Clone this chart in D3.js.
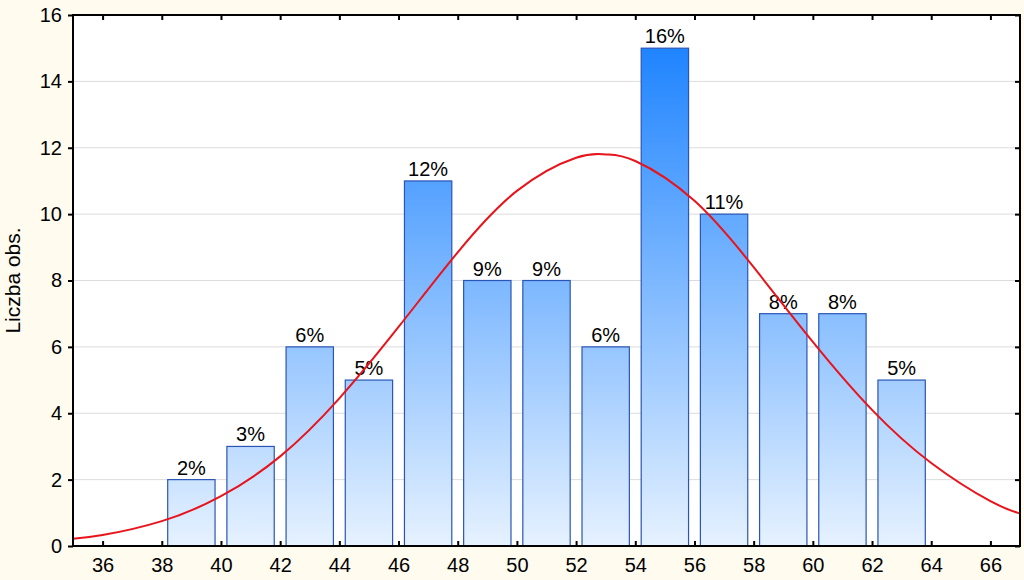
<!DOCTYPE html>
<html>
<head>
<meta charset="utf-8">
<script src="https://cdn.jsdelivr.net/npm/d3@7"></script>
<style>
  body { margin: 0; background: #fffbef; }
  svg { display: block; }
</style>
</head>
<body>
<svg id="hist" width="1024" height="580"></svg>
<script>
// bin centres (bins are 2 wide), counts and the percent labels
var binCenters = [39, 41, 43, 45, 47, 49, 51, 53, 55, 57, 59, 61, 63];
var counts = [2, 3, 6, 5, 11, 8, 8, 6, 15, 10, 7, 7, 5];
var percents = ["2%", "3%", "6%", "5%", "12%", "9%", "9%", "6%", "16%", "11%", "8%", "8%", "5%"];

// expected normal curve
var curveX = [35, 36, 38, 40, 42, 44, 46, 48, 50, 52, 53, 54, 56, 58, 60, 62, 64, 66, 67];
var curveY = [0.22, 0.33, 0.75, 1.5, 2.7, 4.45, 6.6, 8.85, 10.7, 11.7, 11.8, 11.6, 10.4, 8.4, 6.15, 4.1, 2.5, 1.35, 0.98];

var xTicks = [36, 38, 40, 42, 44, 46, 48, 50, 52, 54, 56, 58, 60, 62, 64, 66];
var yTicks = [0, 2, 4, 6, 8, 10, 12, 14, 16];

var svg = d3.select("svg#hist"),
    margin = {top: 15, right: 4, bottom: 34, left: 73},
    width = +svg.attr("width") - margin.left - margin.right,
    height = +svg.attr("height") - margin.top - margin.bottom;

var x = d3.scaleLinear().domain([35, 67]).range([0, width]);
var y = d3.scaleLinear().domain([0, 16]).range([height, 0]);

var defs = svg.append("defs");
var grad = defs.append("linearGradient")
    .attr("id", "barGrad")
    .attr("gradientUnits", "userSpaceOnUse")
    .attr("x1", 0).attr("x2", 0)
    .attr("y1", margin.top + y(0)).attr("y2", margin.top + y(16));
grad.append("stop").attr("offset", "0%").attr("stop-color", "#ecf5ff");
grad.append("stop").attr("offset", "100%").attr("stop-color", "#1880ff");

var g = svg.append("g").attr("transform", "translate(" + margin.left + "," + margin.top + ")");

g.append("rect")
    .attr("width", width)
    .attr("height", height)
    .attr("fill", "#fff");

// grid
g.append("g").selectAll("line")
  .data(yTicks.slice(1, -1))
  .enter().append("line")
    .attr("x1", 0).attr("x2", width)
    .attr("y1", function(d) { return y(d); })
    .attr("y2", function(d) { return y(d); })
    .attr("stroke", "#dcdcdc")
    .attr("stroke-width", 1);

// bars
var pad = 0.2;
g.append("g").selectAll("rect")
  .data(binCenters)
  .enter().append("rect")
    .attr("x", function(d) { return x(d - 1 + pad); })
    .attr("y", function(d, i) { return y(counts[i]); })
    .attr("width", function(d) { return x(d + 1 - pad) - x(d - 1 + pad); })
    .attr("height", function(d, i) { return y(0) - y(counts[i]); })
    .attr("fill", "url(#barGrad)")
    .attr("stroke", "#2a55b5")
    .attr("stroke-width", 1.2);

g.append("g").selectAll("text")
  .data(binCenters)
  .enter().append("text")
    .attr("x", function(d) { return x(d); })
    .attr("y", function(d, i) { return y(counts[i]) - 5; })
    .attr("text-anchor", "middle")
    .style("font", "20px 'Liberation Sans', Arial, sans-serif")
    .attr("fill", "#000")
    .text(function(d, i) { return percents[i]; });

// normal curve
var line = d3.line()
    .x(function(d, i) { return x(curveX[i]); })
    .y(function(d) { return y(d); })
    .curve(d3.curveNatural);

g.append("path")
    .datum(curveY)
    .attr("d", line)
    .attr("fill", "none")
    .attr("stroke", "#e8141c")
    .attr("stroke-width", 2);

// axes
var tickFont = "20px 'Liberation Sans', Arial, sans-serif";

var xAxis = g.append("g")
    .attr("transform", "translate(0," + height + ")")
    .call(d3.axisBottom(x).tickValues(xTicks).tickSizeInner(-5).tickSizeOuter(0).tickPadding(12));
xAxis.selectAll("text").style("font", tickFont).attr("fill", "#000");

var xTop = g.append("g")
    .call(d3.axisTop(x).tickValues(xTicks).tickSizeInner(-5).tickSizeOuter(0).tickFormat(""));

var yAxis = g.append("g")
    .call(d3.axisLeft(y).tickValues(yTicks).tickSizeInner(5).tickSizeOuter(0).tickPadding(6));
yAxis.selectAll("text").style("font", tickFont).attr("fill", "#000");

var yRight = g.append("g")
    .attr("transform", "translate(" + width + ",0)")
    .call(d3.axisRight(y).tickValues(yTicks).tickSizeInner(-5).tickSizeOuter(0).tickFormat(""));

g.selectAll(".domain").remove();
g.selectAll(".tick line").attr("stroke", "#000").attr("stroke-width", 2);

g.append("rect")
    .attr("width", width)
    .attr("height", height)
    .attr("fill", "none")
    .attr("stroke", "#000")
    .attr("stroke-width", 2);

svg.append("text")
    .attr("transform", "translate(20," + (margin.top + height / 2) + ") rotate(-90)")
    .attr("text-anchor", "middle")
    .style("font", "21px 'Liberation Sans', Arial, sans-serif")
    .attr("fill", "#000")
    .text("Liczba obs.");
</script>
</body>
</html>
